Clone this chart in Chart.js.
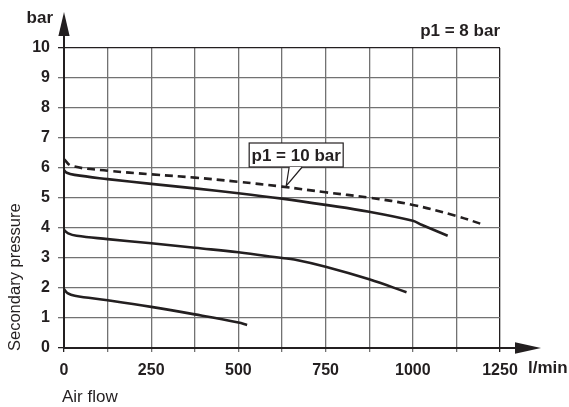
<!DOCTYPE html>
<html>
<head>
<meta charset="utf-8">
<script src="https://cdn.jsdelivr.net/npm/chart.js@4.4.1/dist/chart.umd.min.js"></script>
<style>
  html, body { margin: 0; padding: 0; background: #fff; }
  #wrap { width: 569px; height: 407px; }
</style>
</head>
<body>
<div id="wrap"><canvas id="flowChart" width="569" height="407"></canvas></div>
<script>
// Flow characteristic, secondary pressure (bar) vs air flow (l/min)
const flowTicks = [0, 250, 500, 750, 1000, 1250];
const pressureTicks = [0, 1, 2, 3, 4, 5, 6, 7, 8, 9, 10];

// p1 = 8 bar, p2 set to 6 bar
const flow6 = [0, 8, 30, 125, 250, 375, 500, 625, 750, 875, 1000, 1025, 1100];
const p2_6 = [5.93, 5.84, 5.77, 5.63, 5.47, 5.32, 5.16, 4.98, 4.77, 4.54, 4.24, 4.11, 3.74];

// p1 = 8 bar, p2 set to 4 bar
const flow4 = [0, 12, 36, 125, 250, 375, 500, 625, 660, 750, 875, 982];
const p2_4 = [3.93, 3.82, 3.74, 3.63, 3.49, 3.34, 3.19, 3.0, 2.95, 2.71, 2.29, 1.86];

// p1 = 8 bar, p2 set to 2 bar
const flow2 = [0, 10, 31, 125, 250, 375, 500, 525];
const p2_2 = [1.96, 1.83, 1.74, 1.59, 1.37, 1.12, 0.85, 0.77];

// p1 = 10 bar, p2 set to 6 bar (dashed)
const flow10 = [0, 22, 125, 250, 375, 500, 625, 750, 875, 1000, 1125, 1200];
const p2_10 = [6.29, 6.07, 5.91, 5.79, 5.68, 5.54, 5.38, 5.19, 5.01, 4.77, 4.4, 4.12];

const ink = '#231f20';
const gridGray = '#727272';
const font = "'Liberation Sans', Arial, Helvetica, sans-serif";

const toPoints = (xs, ys) => xs.map((v, i) => ({ x: v, y: ys[i] }));

const curve = (label, xs, ys, dash) => ({
    label: label,
    data: toPoints(xs, ys),
    borderColor: ink,
    borderWidth: 2.6,
    borderDash: dash || [],
    pointRadius: 0,
    fill: false,
    tension: 0.4
});

const edgeColor = (max) => (ctx) =>
    (ctx.tick && (ctx.tick.value === 0 || ctx.tick.value === max)) ? ink : gridGray;

// arrows, axis titles, labels and the callout box
const annotations = {
    id: 'annotations',
    afterDraw(chart) {
        const { ctx, chartArea: a, scales: { x, y } } = chart;
        ctx.save();
        ctx.strokeStyle = ink;
        ctx.fillStyle = ink;
        ctx.lineWidth = 2;

        // y axis arrow
        ctx.beginPath();
        ctx.moveTo(a.left, a.top);
        ctx.lineTo(a.left, a.top - 14);
        ctx.stroke();
        ctx.beginPath();
        ctx.moveTo(a.left, a.top - 36);
        ctx.lineTo(a.left - 5.6, a.top - 12);
        ctx.lineTo(a.left + 5.6, a.top - 12);
        ctx.closePath();
        ctx.fill();

        // x axis arrow
        ctx.beginPath();
        ctx.moveTo(a.right, a.bottom);
        ctx.lineTo(a.right + 17, a.bottom);
        ctx.stroke();
        ctx.beginPath();
        ctx.moveTo(a.right + 41, a.bottom);
        ctx.lineTo(a.right + 15, a.bottom - 5.8);
        ctx.lineTo(a.right + 15, a.bottom + 5.8);
        ctx.closePath();
        ctx.fill();

        ctx.textBaseline = 'middle';
        ctx.font = 'bold 17px ' + font;
        ctx.textAlign = 'right';
        ctx.fillText('bar', 53, 18);
        ctx.fillText('p1 = 8 bar', a.right, 31);
        ctx.textAlign = 'left';
        ctx.fillText('l/min', 528, 368);

        ctx.font = '17px ' + font;
        ctx.fillText('Air flow', 62, 397);

        ctx.save();
        ctx.translate(20, 351);
        ctx.rotate(-Math.PI / 2);
        ctx.font = '16.5px ' + font;
        ctx.textBaseline = 'alphabetic';
        ctx.fillText('Secondary pressure', 0, 0);
        ctx.restore();

        // callout for the p1 = 10 bar curve
        const tx = x.getPixelForValue(637);
        const ty = y.getPixelForValue(5.4);
        const bx = tx - 37, by = ty - 43, bw = 94, bh = 24;
        ctx.lineWidth = 1.2;
        ctx.fillStyle = '#fff';
        ctx.fillRect(bx, by, bw, bh);
        ctx.strokeRect(bx, by, bw, bh);
        ctx.beginPath();
        ctx.moveTo(tx + 3, by + bh);
        ctx.lineTo(tx, ty);
        ctx.lineTo(tx + 16, by + bh);
        ctx.closePath();
        ctx.fill();
        ctx.beginPath();
        ctx.moveTo(tx + 3, by + bh);
        ctx.lineTo(tx, ty);
        ctx.lineTo(tx + 16, by + bh);
        ctx.stroke();
        ctx.fillStyle = ink;
        ctx.font = 'bold 17px ' + font;
        ctx.textAlign = 'center';
        ctx.textBaseline = 'middle';
        ctx.fillText('p1 = 10 bar', bx + bw / 2, by + bh / 2 + 1);

        ctx.restore();
    }
};

new Chart(document.getElementById('flowChart'), {
    type: 'line',
    data: {
        datasets: [
            curve('p1 = 8 bar, 6 bar', flow6, p2_6),
            curve('p1 = 8 bar, 4 bar', flow4, p2_4),
            curve('p1 = 8 bar, 2 bar', flow2, p2_2),
            curve('p1 = 10 bar', flow10, p2_10, [8, 5])
        ]
    },
    options: {
        responsive: false,
        animation: false,
        devicePixelRatio: 1,
        layout: { padding: { left: 0, right: 69, top: 48, bottom: 0 } },
        plugins: {
            legend: { display: false },
            tooltip: { enabled: false }
        },
        scales: {
            x: {
                type: 'linear',
                min: 0,
                max: 1250,
                afterFit: (scale) => { scale.height = 59; },
                ticks: {
                    stepSize: 125,
                    autoSkip: false,
                    maxRotation: 0,
                    padding: 9,
                    color: ink,
                    font: { family: font, size: 16, weight: 'bold' },
                    callback: (v) => flowTicks.includes(v) ? String(v) : ''
                },
                grid: {
                    color: edgeColor(1250),
                    lineWidth: 1.3,
                    tickLength: 4
                },
                border: { color: ink, width: 2 }
            },
            y: {
                min: 0,
                max: 10,
                afterFit: (scale) => { scale.width = 64; },
                ticks: {
                    stepSize: 1,
                    padding: 8,
                    color: ink,
                    font: { family: font, size: 16, weight: 'bold' },
                    callback: (v) => pressureTicks.includes(v) ? String(v) : ''
                },
                grid: {
                    color: edgeColor(10),
                    lineWidth: 1.3,
                    tickLength: 6
                },
                border: { color: ink, width: 2 }
            }
        }
    },
    plugins: [annotations]
});
</script>
</body>
</html>
